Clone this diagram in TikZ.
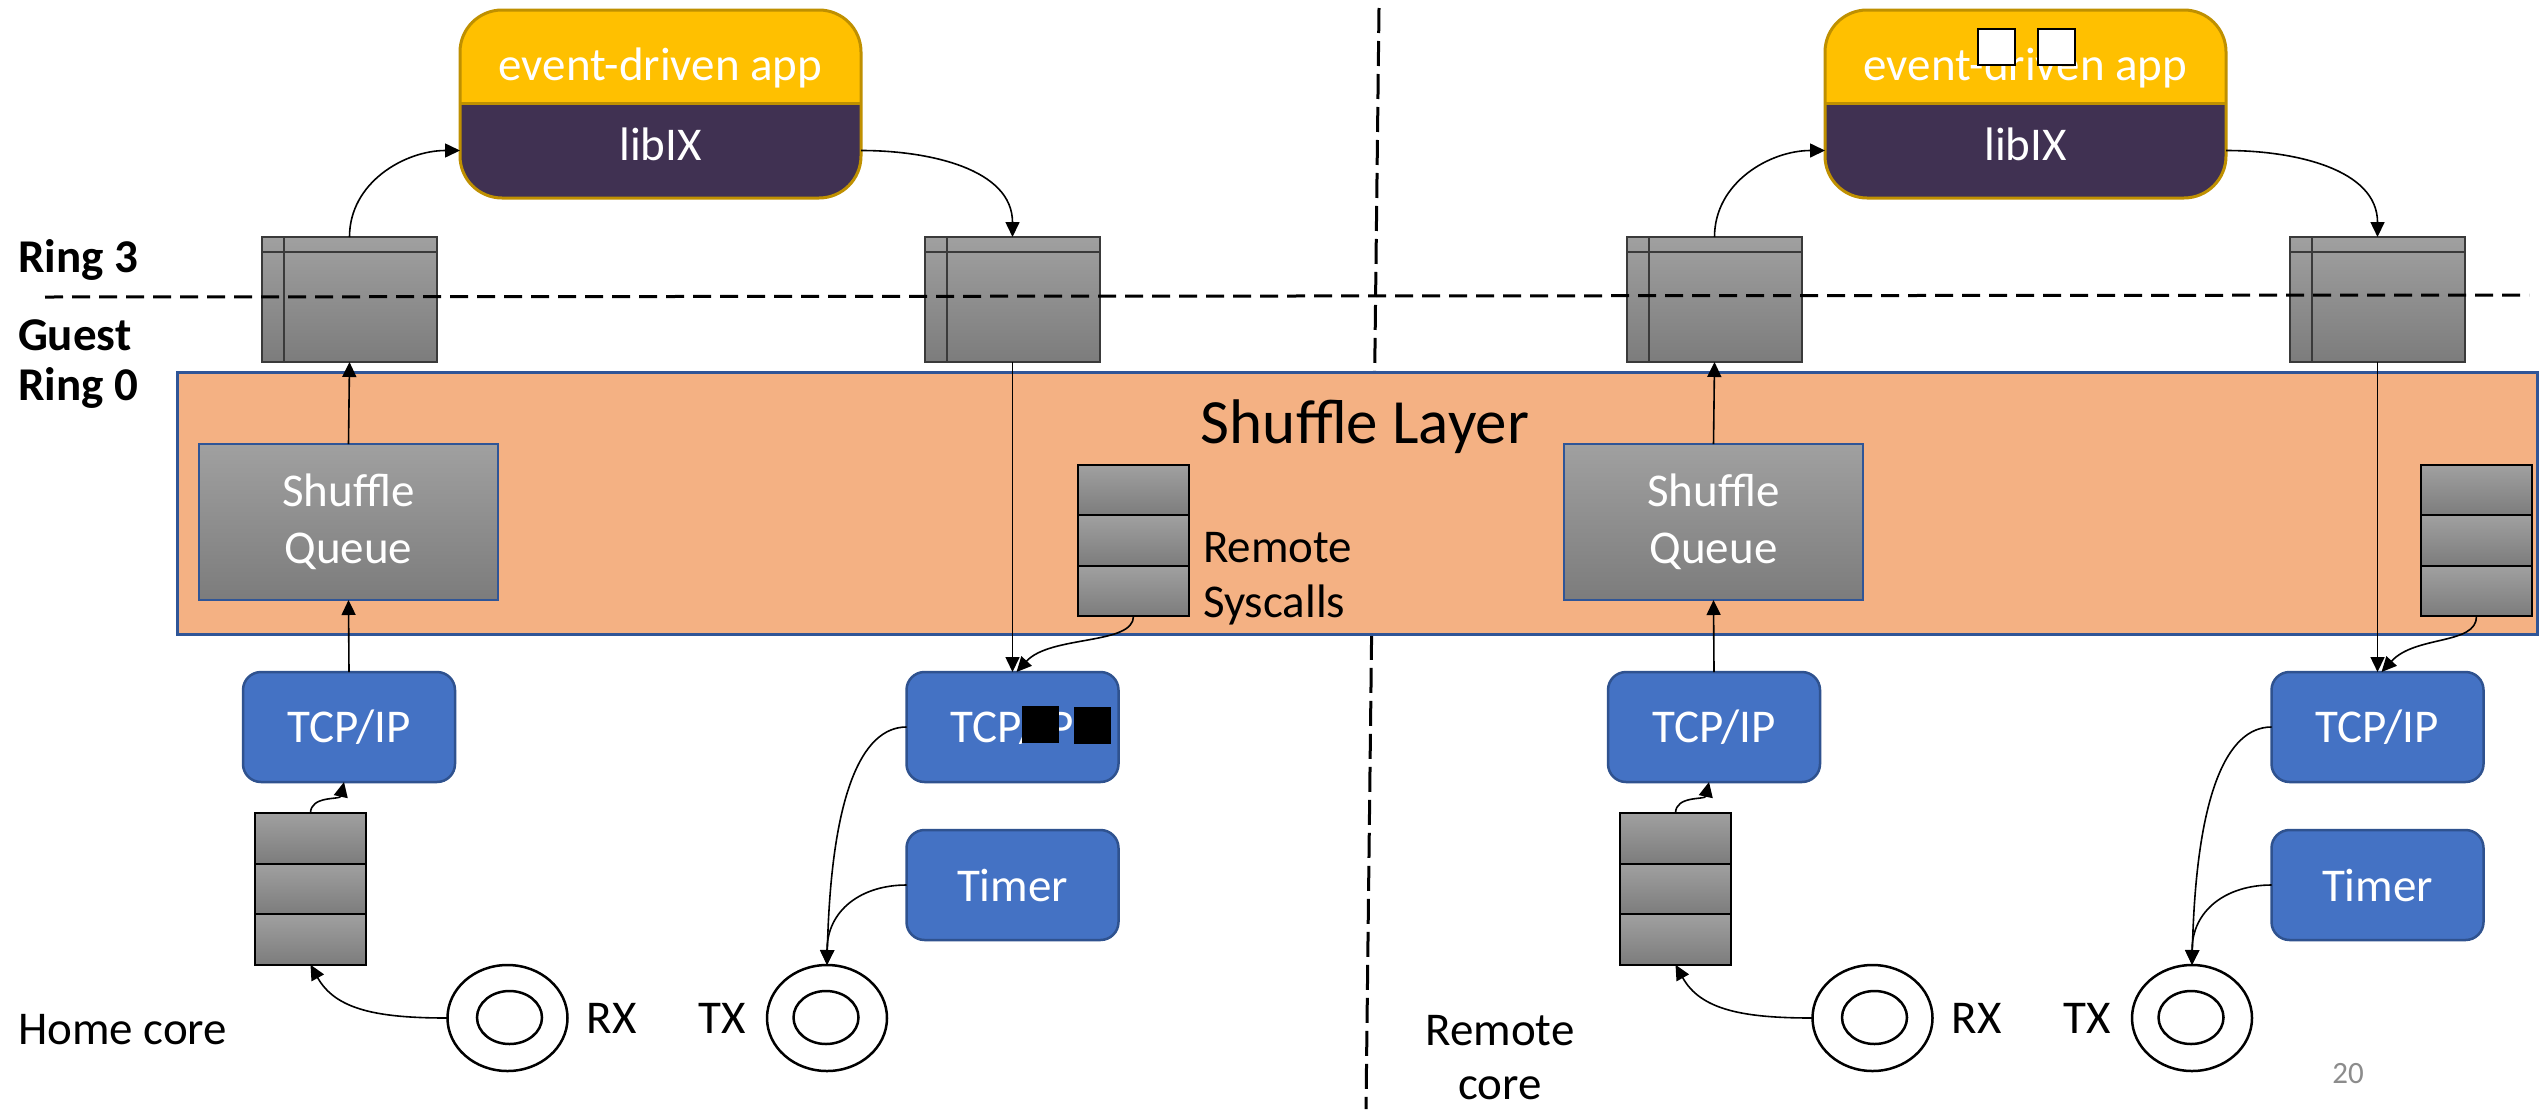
\documentclass[tikz,border=0pt]{standalone}
\usepackage{fontspec}
\setmainfont{Carlito}
\usetikzlibrary{arrows.meta,shapes.geometric}
\definecolor{appyellow}{HTML}{FFC000}
\definecolor{apppurple}{HTML}{403152}
\definecolor{appborder}{HTML}{BF9000}
\definecolor{tcpblue}{HTML}{4472C4}
\definecolor{tcpborder}{HTML}{2F528F}
\definecolor{layerfill}{HTML}{F4B183}
\definecolor{layerborder}{HTML}{2F5597}
\definecolor{gtop}{HTML}{A0A0A0}
\definecolor{gbot}{HTML}{7C7C7C}
\definecolor{qborder}{HTML}{3A3A3A}
\definecolor{pagenum}{HTML}{8C8C8C}
\newcommand\fsA{\fontsize{47pt}{57pt}\selectfont}
\newcommand\fsB{\fontsize{63pt}{75pt}\selectfont}
\newcommand\fsC{\fontsize{31pt}{37pt}\selectfont}
\tikzset{
  conn/.style={line width=1.6pt,-{Triangle[length=15pt,width=14pt]}},
  wtext/.style={text=white,font=\fsA,inner sep=0pt,outer sep=0pt},
  btext/.style={text=black,font=\fsA,inner sep=0pt,outer sep=0pt},
  appframe/.style={draw=appborder,line width=3pt,rounded corners=42pt,minimum width=401pt,minimum height=188pt,inner sep=0pt,outer sep=0pt},
  ringq/.style={top color=gtop,bottom color=gbot,draw=qborder,line width=2pt,minimum width=175pt,minimum height=125pt,inner sep=0pt,outer sep=0pt},
  qline/.style={draw=qborder,line width=2pt},
  cell/.style={top color=gtop,bottom color=gbot,draw=black,line width=2pt,minimum width=111pt,minimum height=50.5pt,inner sep=0pt,outer sep=0pt},
  sqbox/.style={top color=gtop,bottom color=gbot,draw=layerborder,line width=2.5pt,minimum width=299pt,minimum height=156pt,inner sep=0pt,outer sep=0pt,align=center,text=white,font=\fsA},
  tcpbox/.style={fill=tcpblue,draw=tcpborder,line width=2.5pt,rounded corners=18pt,minimum width=212pt,minimum height=110pt,inner sep=0pt,outer sep=0pt,text=white,font=\fsA},
  ringo/.style={draw=black,line width=2.5pt,ellipse,minimum width=120pt,minimum height=106pt,inner sep=0pt,outer sep=0pt},
  ringi/.style={draw=black,line width=2.5pt,ellipse,minimum width=65pt,minimum height=53pt,inner sep=0pt,outer sep=0pt},
  layerbox/.style={fill=layerfill,draw=layerborder,line width=3pt,minimum width=2360pt,minimum height=262pt,inner sep=0pt,outer sep=0pt},
  vdash/.style={line width=3pt,dash pattern=on 25pt off 8pt},
  hdash/.style={line width=3pt,dash pattern=on 18pt off 9pt},
  blk/.style={fill=black,minimum width=37pt,minimum height=37pt,inner sep=0pt,outer sep=0pt},
  wsq/.style={fill=white,draw=black,line width=2.5pt,minimum width=37pt,minimum height=36pt,inner sep=0pt,outer sep=0pt}
}
\newcommand\halfpart[3]{%
\begin{scope}[xshift=#2pt]
  \begin{scope}
    \clip[rounded corners=42pt] (460,10) rectangle (861,198);
    \fill[appyellow] (460,10) rectangle (861,103);
    \fill[apppurple] (460,103) rectangle (861,198);
  \end{scope}
  \draw[appborder,line width=3pt] (460,103) -- (861,103);
  \node[appframe] (#1app) at (660.5,104) {};
  \node[inner sep=0pt,outer sep=0pt,minimum width=401pt,minimum height=95pt] (#1lib) at (660.5,150.5) {};
  \node[wtext,anchor=base] (#1apptxt) at (660.5,80) {event-driven app};
  \node[wtext,anchor=base] (#1libtxt) at (660.5,160) {libIX};
  % ring boundary queues
  \node[ringq] (#1qa) at (349.5,299.5) {};
  \node[ringq] (#1qb) at (1012.5,299.5) {};
  \foreach \q in {#1qa,#1qb}{
    \draw[qline] ([xshift=22pt]\q.north west) -- ([xshift=22pt]\q.south west);
    \draw[qline] ([yshift=-15pt]\q.north west) -- ([yshift=-15pt]\q.north east);
  }
  % shuffle queue
  \node[sqbox] (#1sq) at (348.5,522) {Shuffle\\Queue};
  % remote syscall queue
  \node[cell] (#1rs1) at ({#3+55.5},490.5) {};
  \node[cell] (#1rs2) at ({#3+55.5},540.5) {};
  \node[cell] (#1rs3) at ({#3+55.5},591) {};
  % tcp / timer
  \node[tcpbox] (#1tcpa) at (349,727) {TCP/IP};
  \node[tcpbox] (#1tcpb) at (1012.5,727) {TCP/IP};
  \node[tcpbox] (#1timer) at (1012.5,885) {Timer};
  % rx queue
  \node[cell] (#1rx1) at (310.5,838.5) {};
  \node[cell] (#1rx2) at (310.5,889) {};
  \node[cell] (#1rx3) at (310.5,939.5) {};
  % rings
  \node[ringo] (#1rxo) at (507.5,1018) {};
  \node[ringi] (#1rxi) at (509.5,1017.5) {};
  \node[ringo] (#1txo) at (827,1018) {};
  \node[ringi] (#1txi) at (826,1017.5) {};
  \node[btext,anchor=base] (#1rxl) at (611.5,1033) {RX};
  \node[btext,anchor=base] (#1txl) at (722.5,1033) {TX};
  % connectors
  \draw[conn] (#1qa.north) to[out=90,in=180] (#1lib.west);
  \draw[conn] (#1lib.east) to[out=0,in=90] (#1qb.north);
  \draw[conn] (#1qb.south) -- (#1tcpb.north);
  \draw[conn] (#1rs3.south) .. controls +(0,29) and +(34,-37) .. ([xshift=4pt]#1tcpb.north);
  \draw[conn] (#1sq.north) -- (#1qa.south);
  \draw[conn] (#1tcpa.north) -- (#1sq.south);
  \draw[conn] (#1rx1.north) .. controls +(0,-18) and +(-4,18) .. ([xshift=-5pt]#1tcpa.south);
  \draw[conn] (#1rxo.west) .. controls +(-70,0) and +(25,45) .. (#1rx3.south);
  \draw[conn] (#1tcpb.west) .. controls +(-45,0) and +(4,-170) .. (#1txo.north);
  \draw[conn] (#1timer.west) .. controls +(-45,0) and +(0,-55) .. (#1txo.north);
\end{scope}}
\begin{document}
\begin{tikzpicture}[x=1pt,y=-1pt]
\useasboundingbox (0,0) rectangle (2539,1109);
\fill[white] (0,0) rectangle (2539,1109);
% vertical divider
\coordinate (vtop) at (1379,8);
\coordinate (vbot) at (1366,1109);
\draw[vdash] (vtop) -- (vbot);
% shuffle layer
\node[layerbox] (layer) at (1357,503) {};
\node[anchor=base,inner sep=0pt,font=\fsB] (layertitle) at (1365,443) {Shuffle Layer};
% the two halves
\halfpart{L}{0}{1078}
\halfpart{R}{1365}{1056}
% left-only labels
\node[btext,anchor=base west] (remsysA) at (1203,562) {Remote};
\node[btext,anchor=base west] (remsysB) at (1203,617) {Syscalls};
\node[btext,anchor=base west,font=\fsA\bfseries] (ring3) at (18,272) {Ring 3};
\node[btext,anchor=base west,font=\fsA\bfseries] (guest) at (18,350) {Guest};
\node[btext,anchor=base west,font=\fsA\bfseries] (ring0) at (18,400) {Ring 0};
\node[btext,anchor=base west] (home) at (18,1044) {Home core};
\node[btext,anchor=base] (remcA) at (1500,1045) {Remote};
\node[btext,anchor=base] (remcB) at (1500,1099) {core};
\node[anchor=base,inner sep=0pt,font=\fsC,text=pagenum] (pnum) at (2348,1083) {20};
% overlay squares
\node[blk] (blkA) at (1040.5,724.5) {};
\node[blk] (blkB) at (1092,725.5) {};
\node[wsq] (wsqA) at (1996.5,47) {};
\node[wsq] (wsqB) at (2056.5,47) {};
% ring 3 / ring 0 boundary
\coordinate (hl) at (45,297);
\coordinate (hr) at (2529,295);
\draw[hdash] (hl) -- (hr);
\end{tikzpicture}
\end{document}
